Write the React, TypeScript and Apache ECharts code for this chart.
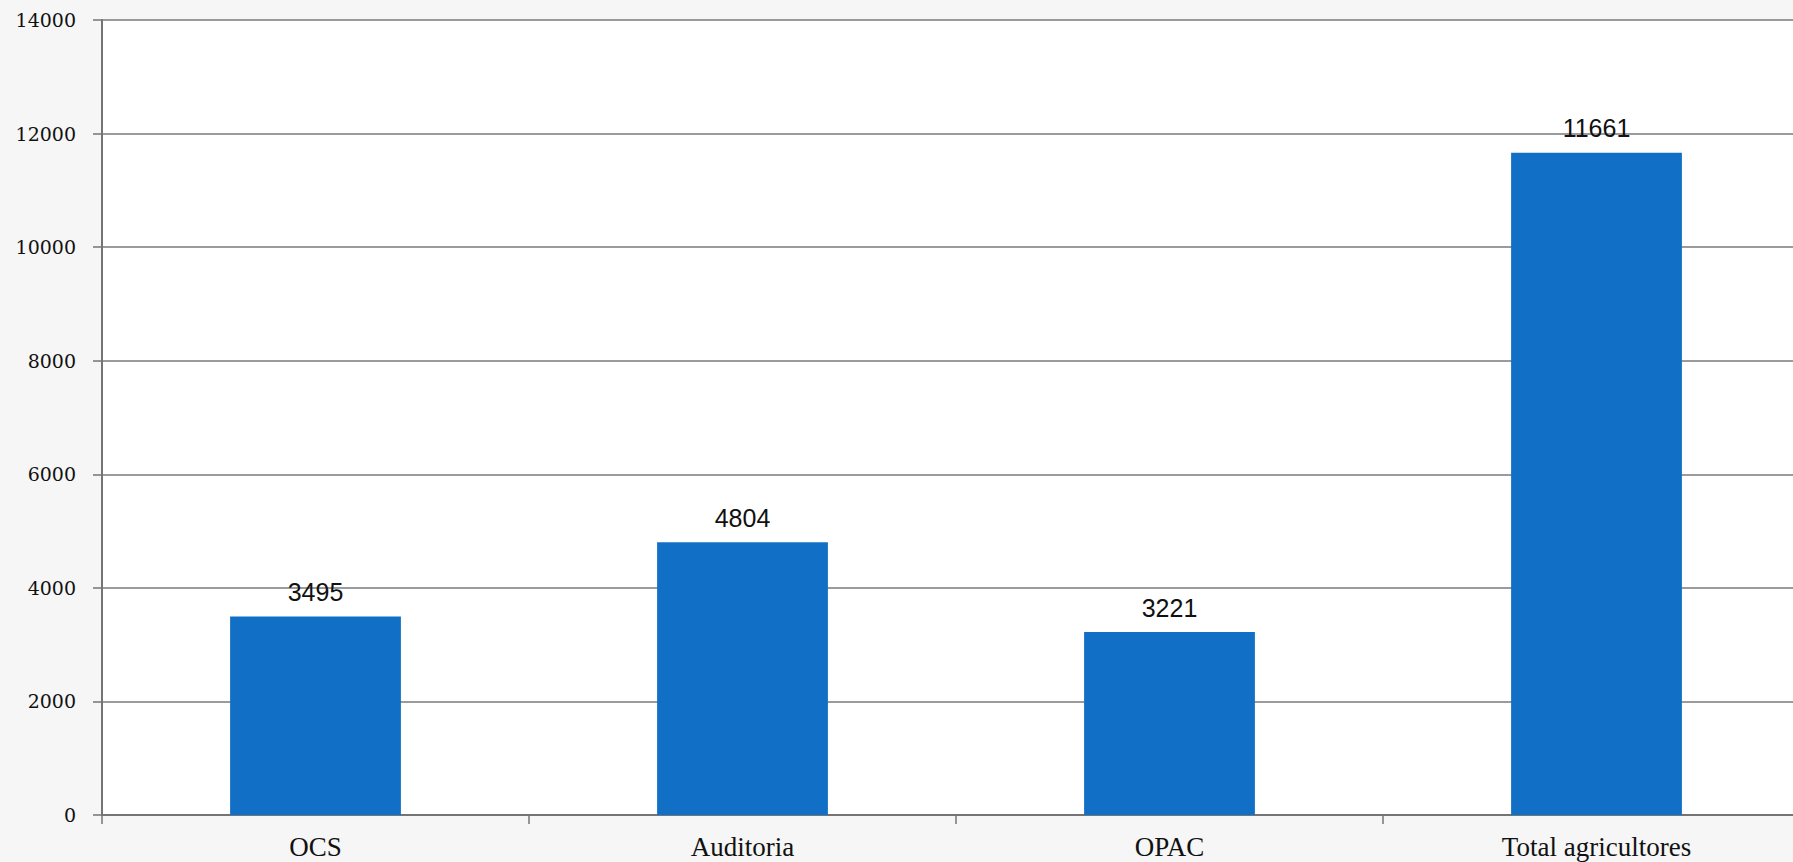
import React, { useEffect, useRef } from "react";
import * as echarts from "echarts";

const categories = ["OCS", "Auditoria", "OPAC", "Total agricultores"];
const values = [3495, 4804, 3221, 11661];
const yMin = 0;
const yMax = 14000;
const yInterval = 2000;

export default function App() {
  const ref = useRef<HTMLDivElement>(null);
  useEffect(() => {
    document.body.style.margin = "0";
    document.body.style.overflow = "hidden";
    const chart = echarts.init(ref.current!, null, { renderer: "svg" });
    chart.setOption({
      animation: false,
      grid: {
        left: 102,
        top: 20,
        bottom: 47,
        right: 0,
        show: true,
        backgroundColor: "#ffffff",
        borderWidth: 0,
      },
      xAxis: {
        type: "category",
        data: categories,
        axisLine: { lineStyle: { color: "#747474", width: 2 } },
        axisTick: { show: true, length: 9, lineStyle: { color: "#747474", width: 1.5 } },
        axisLabel: {
          margin: 18,
          fontFamily: "Liberation Serif",
          fontSize: 27,
          lineHeight: 27,
          color: "#111",
        },
      },
      yAxis: {
        type: "value",
        min: yMin,
        max: yMax,
        interval: yInterval,
        axisLine: { show: true, lineStyle: { color: "#747474", width: 2 } },
        axisTick: { show: true, length: 9, lineStyle: { color: "#747474", width: 1.5 } },
        splitLine: { lineStyle: { color: "#7a7a7a", width: 1.5 } },
        axisLabel: {
          margin: 26,
          fontFamily: "DejaVu Serif",
          fontSize: 19,
          color: "#111",
          formatter: (v: number) => String(v),
        },
      },
      series: [
        {
          type: "bar",
          data: values,
          barWidth: "40%",
          itemStyle: { color: "#1170c6" },
          label: {
            show: true,
            position: "top",
            distance: 12,
            fontFamily: "Liberation Sans",
            fontSize: 25,
            color: "#111",
          },
        },
      ],
    });
    return () => chart.dispose();
  }, []);
  return (
    <div style={{ width: 1793, height: 862, overflow: "hidden", background: "#f6f6f6" }}>
      <div ref={ref} style={{ width: 1810, height: 862 }} />
    </div>
  );
}
